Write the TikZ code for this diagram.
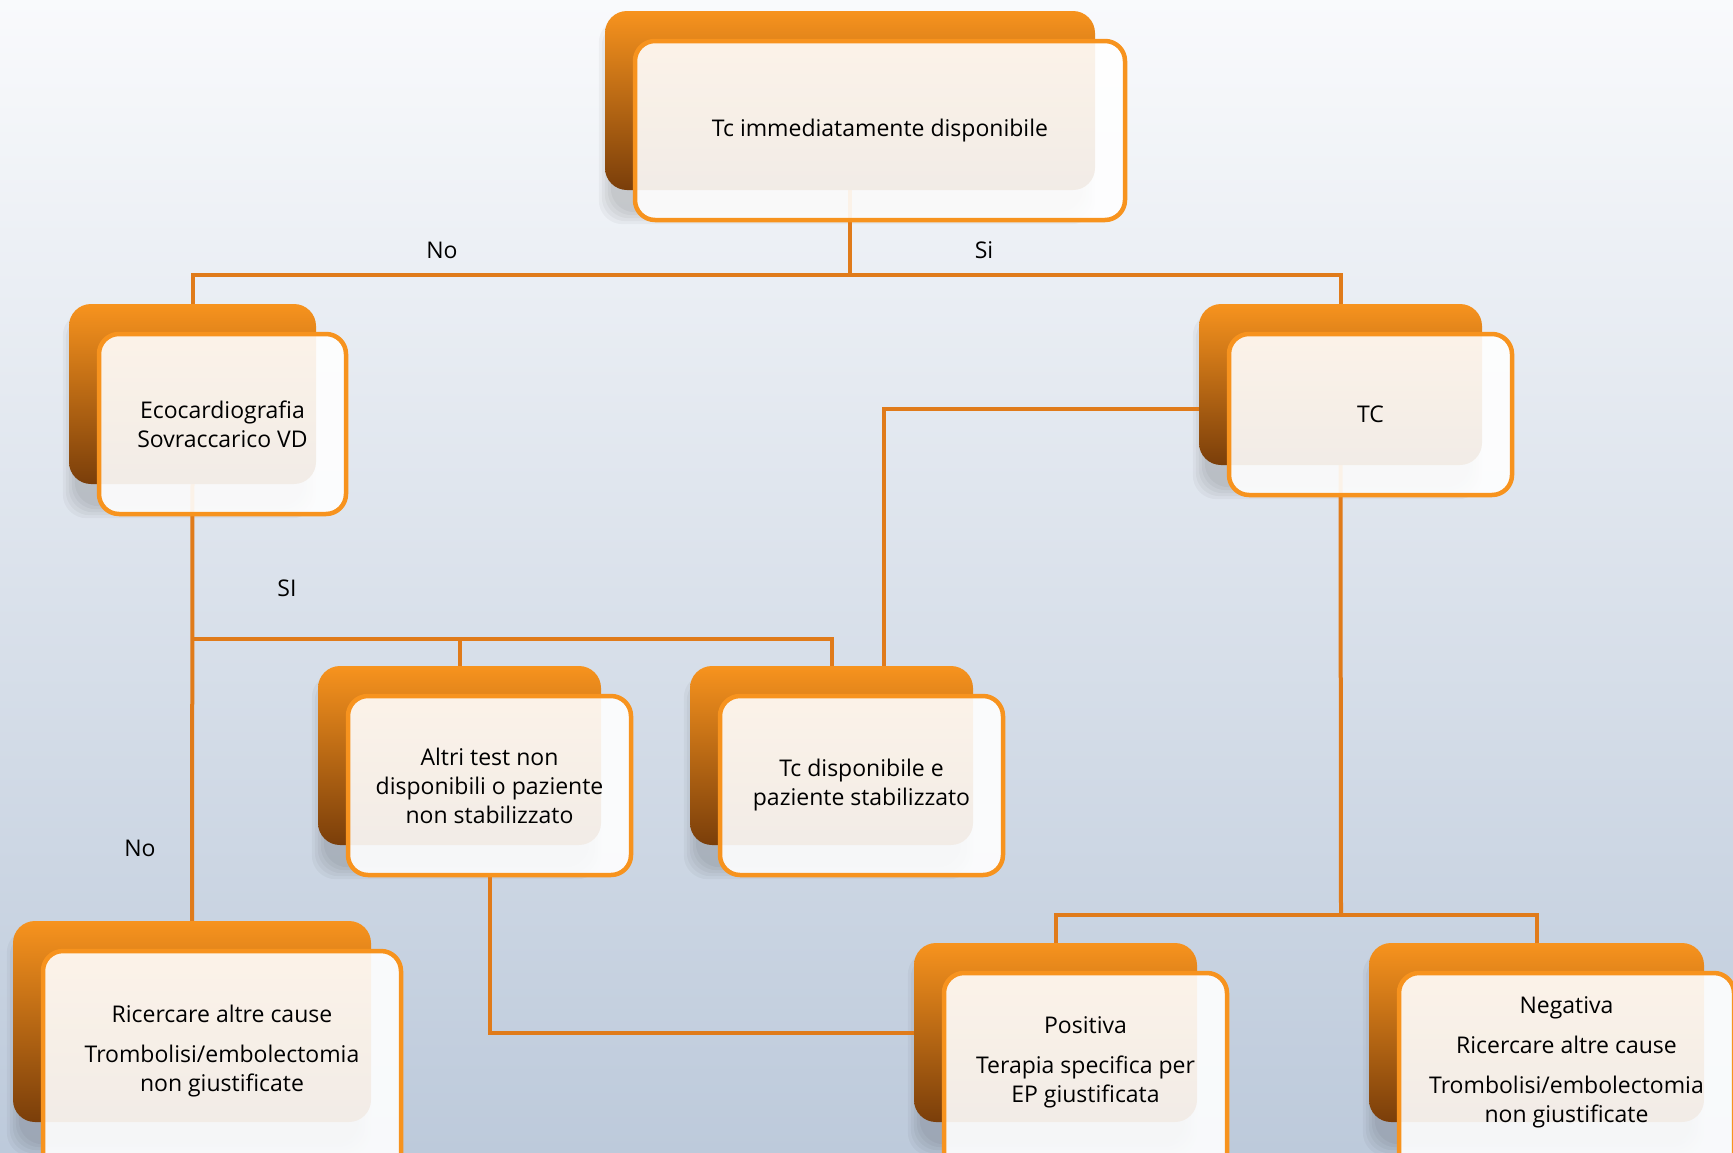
\documentclass[tikz,border=0pt]{standalone}
\usepackage{fontspec}
\setmainfont{Open Sans}
\definecolor{org}{HTML}{F7931E}
\definecolor{orgmid}{HTML}{DD7C1B}
\definecolor{brn}{HTML}{7A3E0A}
\definecolor{lnk}{HTML}{E07B1A}
\definecolor{bgtop}{HTML}{F9FAFC}
\definecolor{bgbot}{HTML}{BDCADB}
\pgfdeclarelayer{bglayer}
\pgfdeclarelayer{shadowlayer}
\pgfdeclarelayer{linelayer}
\pgfsetlayers{bglayer,shadowlayer,linelayer,main}
\newcommand\flowbox[7][0]{%
  \node[backbox, minimum width=#5pt, minimum height=#6pt] (#2b) at (#3,#4) {};
  \node[frontbox, minimum width=#5pt, minimum height=#6pt+#1pt] (#2) at ([shift={(30pt,-30pt-#1pt/2)}]#2b.center) {};
  \node[txt] (#2t) at ([shift={(30pt,-30pt)}]#2b.center) {#7};
  \begin{pgfonlayer}{shadowlayer}
    \foreach \s in {2,5,8,11,14}{
      \fill[black, opacity=0.035, rounded corners=24pt]
        ([shift={(8-\s,22-\s)}]#2b.north west) rectangle ([shift={(\s-14,20+\s)}]#2b.south east);
    }
  \end{pgfonlayer}
}
\begin{document}
\begin{tikzpicture}[x=1pt,y=-1pt,
  backbox/.style={rounded corners=22pt, top color=org, middle color=orgmid, bottom color=brn, draw=none, inner sep=0pt},
  frontbox/.style={rounded corners=20pt, fill=white, fill opacity=0.9, draw=org, line width=4.5pt, inner sep=0pt},
  txt/.style={align=center, inner sep=0pt, font=\fontsize{23}{29}\selectfont},
  link/.style={draw=lnk, line width=4pt},
  lbl/.style={font=\fontsize{23}{29}\selectfont, inner sep=0pt}]
\useasboundingbox (0,0) rectangle (1733,1152);
\begin{pgfonlayer}{bglayer}
\shade[top color=bgtop, bottom color=bgbot] (0,0) rectangle (1733,1152);
\end{pgfonlayer}

\flowbox{top}{850}{100.5}{490}{179}{Tc immediatamente disponibile}
\flowbox{eco}{192.5}{394}{247}{180}{Ecocardiografia\\Sovraccarico VD}
\flowbox{tc}{1340.5}{384.5}{283}{161}{TC}
\flowbox{altri}{459.5}{755.5}{283}{179}{Altri test non\\disponibili o paziente\\non stabilizzato}
\flowbox{tcd}{831.5}{755.5}{283}{179}{Tc disponibile e\\paziente stabilizzato}
\flowbox[40]{ric}{192}{1021.5}{358}{201}{Ricercare altre cause\\[11pt]Trombolisi/embolectomia\\non giustificate}
\flowbox[40]{pos}{1055.5}{1032.5}{283}{179}{Positiva\\[11pt]Terapia specifica per\\EP giustificata}
\flowbox[40]{neg}{1536.5}{1032.5}{335}{179}{Negativa\\[11pt]Ricercare altre cause\\[11pt]Trombolisi/embolectomia\\non giustificate}

\node[lbl] (lno1) at (442,250) {No};
\node[lbl] (lsi1) at (984,250) {Si};
\node[lbl] (lsi2) at (287,588) {SI};
\node[lbl] (lno2) at (140,848) {No};

\begin{pgfonlayer}{linelayer}
\coordinate (j1) at (850,275);
\coordinate (j2) at (192,639);
\coordinate (j3) at (1341,915);
\coordinate (j4) at (884,409);
\draw[link] (topb.south) -- (j1);
\draw[link] (ecob.north) |- (j1) -| (tcb.north);
\draw[link] (ecob.south) -- (ricb.north);
\draw[link] (j2) -| (altrib.north);
\draw[link] (j2) -| (tcdb.north);
\draw[link] (tcb.west |- j4) -- (j4) -- (j4 |- tcdb.north);
\draw[link] (altri.south) |- (posb.west);
\draw[link] (tcb.south) -- (j3);
\draw[link] (posb.north) |- (j3) -| (negb.north);
\end{pgfonlayer}
\end{tikzpicture}
\end{document}
